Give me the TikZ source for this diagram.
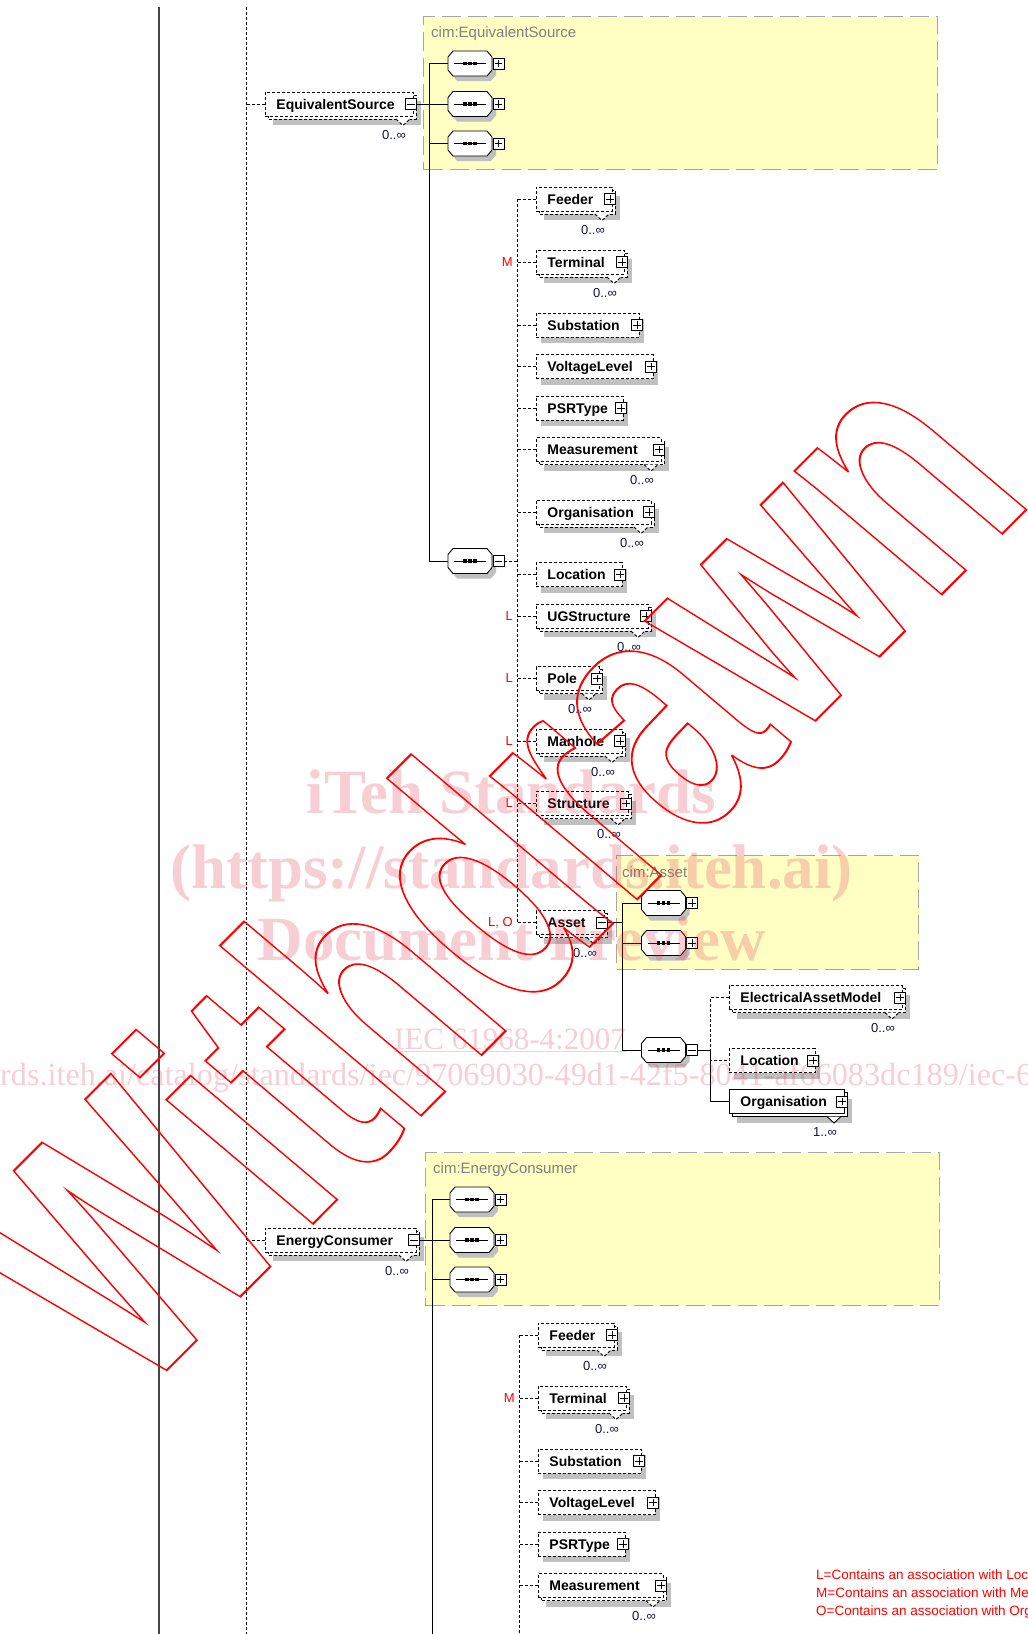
\documentclass[tikz,border=0pt]{standalone}
\usepackage{fontspec}
\setmainfont{Liberation Sans}
\newfontfamily\wmserif{Liberation Serif}
\definecolor{shadowgray}{RGB}{192,192,192}
\definecolor{cimfill}{RGB}{255,255,196}
\definecolor{cimline}{RGB}{165,165,165}
\definecolor{cimtext}{RGB}{128,128,128}
\definecolor{multtext}{RGB}{20,20,70}
\definecolor{wmpink}{RGB}{230,60,90}
\definecolor{axisgray}{RGB}{70,70,70}
\newcommand\elfnt{\fontsize{14}{16}\selectfont\bfseries}
\newcommand\multfnt{\fontsize{13}{15}\selectfont}
\newcommand\cimfnt{\fontsize{15}{17}\selectfont}
\newcommand\labfnt{\fontsize{13}{15}\selectfont}
\newcommand\legfnt{\fontsize{13.5}{16}\selectfont}
\tikzset{
  eldash/.style={draw=black, line width=0.9pt, dash pattern=on 3pt off 2pt},
  elsolid/.style={draw=black, line width=0.9pt, solid},
  elbox/.style={fill=white, minimum height=24pt, inner sep=0pt, anchor=west, font=\elfnt, text height=12pt, text depth=2pt},
  pbox/.style={draw=black, fill=white, solid, line width=0.8pt, minimum size=11pt, inner sep=0pt,
    path picture={\draw[line width=0.8pt] ([xshift=-3.6pt]path picture bounding box.center) -- ([xshift=3.6pt]path picture bounding box.center);
      \draw[line width=0.8pt] ([yshift=-3.6pt]path picture bounding box.center) -- ([yshift=3.6pt]path picture bounding box.center);}},
  mbox/.style={draw=black, fill=white, solid, line width=0.8pt, minimum size=11pt, inner sep=0pt,
    path picture={\draw[line width=0.8pt] ([xshift=-3.6pt]path picture bounding box.center) -- ([xshift=3.6pt]path picture bounding box.center);}},
  multlab/.style={font=\multfnt, text=multtext, inner sep=0pt},
  redlab/.style={font=\labfnt, text=red, inner sep=0pt, anchor=east},
  cimbox/.style={fill=cimfill, draw=cimline, line width=1.2pt, dash pattern=on 19pt off 7pt, anchor=north west, inner sep=0pt},
  cimlab/.style={font=\cimfnt, text=cimtext, anchor=west, inner sep=0pt},
  conn/.style={draw=black, line width=0.9pt},
  dconn/.style={draw=black, line width=0.9pt, dash pattern=on 3pt off 2pt},
  seqnode/.style={minimum width=44pt, minimum height=25pt, inner sep=0pt},
  seqshape/.style={draw=black, fill=white, line width=0.9pt},
  legend/.style={font=\legfnt, text=red, inner sep=0pt, anchor=base west},
  wmbig/.style={font=\wmserif\bfseries\fontsize{63}{70}\selectfont, text=wmpink, opacity=0.25, inner sep=0pt, anchor=base},
  wmmid/.style={font=\wmserif\fontsize{31}{34}\selectfont, text=wmpink, opacity=0.25, inner sep=0pt},
  wmurl/.style={font=\wmserif\fontsize{32.2}{34}\selectfont, text=wmpink, opacity=0.25, inner sep=0pt},
}
% sequence icon: name, cx, cy, box style
\newcommand\Seq[4]{%
  \path[fill=shadowgray] (#2-18,#3-1.5) -- (#2-13,#3-7.5) -- (#2+21,#3-7.5) -- (#2+26,#3-1.5) -- (#2+26,#3+11.5) -- (#2+21,#3+17.5) -- (#2-13,#3+17.5) -- (#2-18,#3+11.5) -- cycle;
  \node[seqnode] (#1) at (#2,#3) {};
  \path[seqshape] (#2-22,#3-6.5) -- (#2-17,#3-12.5) -- (#2+17,#3-12.5) -- (#2+22,#3-6.5) -- (#2+22,#3+6.5) -- (#2+17,#3+12.5) -- (#2-17,#3+12.5) -- (#2-22,#3+6.5) -- cycle;
  \draw[line width=0.9pt] (#2-16,#3) -- (#2+16,#3);
  \fill (#2-6.7,#3-1.8) rectangle (#2-3.3,#3+1.8);
  \fill (#2-1.7,#3-1.8) rectangle (#2+1.7,#3+1.8);
  \fill (#2+3.3,#3-1.8) rectangle (#2+6.7,#3+1.8);
  \node[#4] (#1p) at (#2+28.5,#3) {};
}
% single element: name, left x, button x, y, text, button style
\newcommand\ElS[6]{%
  \path[fill=shadowgray] (#2+5,#4-6) rectangle (#3+7,#4+18);
  \pgfmathsetmacro\elw{#3+2-(#2)}%
  \node[elbox, eldash] (#1) at (#2,#4) {\hbox to \elw pt{\hskip 11pt #5\hfil}};
  \node[#6] (#1p) at (#3,#4) {};
}
% multiple element: name, left x, button x, y, text, button style, multiplicity, line style
\newcommand\ElM[8]{%
  \path[fill=shadowgray] (#2+8,#4-3) rectangle (#3+10,#4+21);
  \path[#8, fill=white] (#2+3,#4-9) rectangle (#3+5,#4+15);
  \path[#8, fill=white] (#3-15,#4+15) -- (#3-8,#4+21.5) -- (#3-1,#4+15);
  \pgfmathsetmacro\elw{#3+2-(#2)}%
  \node[elbox, #8] (#1) at (#2,#4) {\hbox to \elw pt{\hskip 11pt #5\hfil}};
  \node[#6] (#1p) at (#3,#4) {};
  \node[multlab] (#1m) at (#3-17,#4+31) {#7};
}
\newcommand\outlinetext[1]{\special{pdf:literal direct 1 Tr 1.4 w}#1\special{pdf:literal direct 0 Tr}}
\begin{document}
\begin{tikzpicture}[x=1pt,y=-1pt]
\useasboundingbox (0,0) rectangle (1028,1634);
\clip (0,0) rectangle (1028,1634);
\fill[white] (0,0) rectangle (1028,1634);

% left axis lines
\coordinate (solTop) at (159,7);
\coordinate (solBot) at (159,1640);
\draw[draw=axisgray, line width=1.4pt] (solTop) -- (solBot);
\coordinate (dashTop) at (246.5,7);
\coordinate (dashBot) at (246.5,1640);
\draw[dconn] (dashTop) -- (dashBot);

% ===== EquivalentSource =====
\node[cimbox, minimum width=514pt, minimum height=153pt] (cimES) at (423,16) {};
\node[cimlab] (cimESl) at (431,34) {cim:EquivalentSource};
\ElM{es}{265}{411}{104}{EquivalentSource}{mbox}{0..∞}{eldash}
\draw[dconn] (es.west) -- (es.west -| dashTop);
\Seq{es1}{470}{63.5}{pbox}
\Seq{es2}{470}{104}{pbox}
\Seq{es3}{470}{143.5}{pbox}
\Seq{esm}{470}{561}{mbox}
\coordinate (esTr) at (429.5,63.5);
\draw[conn] (es1.west) -- (es1.west -| esTr) -- (esm.west -| esTr) -- (esm.west);
\draw[conn] (esp.east) -- (es2.west);
\draw[conn] (es3.west) -- (es3.west -| esTr);

\ElM{feeder}{536}{610}{199}{Feeder}{pbox}{0..∞}{eldash}
\ElM{terminal}{536}{622}{262}{Terminal}{pbox}{0..∞}{eldash}
\ElS{substation}{536}{637}{325}{Substation}{pbox}
\ElS{voltage}{536}{651}{366.5}{VoltageLevel}{pbox}
\ElS{psr}{536}{621}{408}{PSRType}{pbox}
\ElM{meas}{536}{659}{449.5}{Measurement}{pbox}{0..∞}{eldash}
\ElM{org}{536}{649}{512}{Organisation}{pbox}{0..∞}{eldash}
\ElS{loc}{536}{620}{574.5}{Location}{pbox}
\ElM{ug}{536}{646}{616}{UGStructure}{pbox}{0..∞}{eldash}
\ElM{pole}{536}{597}{678.5}{Pole}{pbox}{0..∞}{eldash}
\ElM{manhole}{536}{620}{741}{Manhole}{pbox}{0..∞}{eldash}
\ElM{structure}{536}{626}{803.5}{Structure}{pbox}{0..∞}{eldash}

% Asset with its type box
\node[cimbox, minimum width=302pt, minimum height=114pt] (cimAs) at (616,855) {};
\node[cimlab] (cimAsl) at (622,872.5) {cim:Asset};
\ElM{asset}{536}{602}{922.5}{Asset}{mbox}{0..∞}{eldash}

\coordinate (chTr) at (517.5,199);
\draw[dconn] (esmp.east) -- (esmp.east -| chTr);
\draw[dconn] (feeder.west -| chTr) -- (asset.west -| chTr);
\foreach \n in {feeder,terminal,substation,voltage,psr,meas,org,loc,ug,pole,manhole,structure,asset}
  \draw[dconn] (\n.west) -- (\n.west -| chTr);
\node[redlab] (lM) at (513,262) {M};
\node[redlab] (lL1) at (513,616) {L};
\node[redlab] (lL2) at (513,678.5) {L};
\node[redlab] (lL3) at (513,741) {L};
\node[redlab] (lL4) at (513,803.5) {L};
\node[redlab] (lLO) at (513,922.5) {L, O};

\Seq{as1}{663.5}{903}{pbox}
\Seq{as2}{663.5}{943}{pbox}
\Seq{as3}{663.5}{1050}{mbox}
\coordinate (asTr) at (622.5,903);
\draw[conn] (assetp.east) -- (assetp.east -| asTr);
\draw[conn] (as1.west) -- (as1.west -| asTr) -- (as3.west -| asTr) -- (as3.west);
\draw[conn] (as2.west) -- (as2.west -| asTr);
\ElM{eam}{729}{900}{997.5}{ElectricalAssetModel}{pbox}{0..∞}{eldash}
\ElS{aloc}{729}{813}{1060.5}{Location}{pbox}
\ElM{aorg}{729}{842}{1101.5}{Organisation}{pbox}{1..∞}{elsolid}
\coordinate (brTr) at (710.5,997.5);
\draw[conn] (as3p.east) -- (as3p.east -| brTr);
\draw[dconn] (eam.west) -- (eam.west -| brTr) -- (aloc.west -| brTr) -- (aloc.west);
\draw[conn] (as3p.east -| brTr) -- (aorg.west -| brTr) -- (aorg.west);

% ===== EnergyConsumer =====
\ElM{ec}{265}{414}{1240}{EnergyConsumer}{mbox}{0..∞}{eldash}
\draw[dconn] (ec.west) -- (ec.west -| dashTop);
\begin{scope}[shift={(2,1136)}]
  \node[cimbox, minimum width=514pt, minimum height=153pt] (cimEC) at (423,16) {};
  \node[cimlab] (cimECl) at (431,34) {cim:EnergyConsumer};
  \Seq{ec1}{470}{63.5}{pbox}
  \Seq{ec2}{470}{104}{pbox}
  \Seq{ec3}{470}{143.5}{pbox}
  \coordinate (ecTr) at (430.5,63.5);
  \coordinate (ecBot) at (430.5,520);
  \draw[conn] (ec1.west) -- (ec1.west -| ecTr) -- (ecBot);
  \draw[conn] (ecp.east) -- (ec2.west);
  \draw[conn] (ec3.west) -- (ec3.west -| ecTr);
  \ElM{cfeeder}{536}{610}{199}{Feeder}{pbox}{0..∞}{eldash}
  \ElM{cterminal}{536}{622}{262}{Terminal}{pbox}{0..∞}{eldash}
  \ElS{csub}{536}{637}{325}{Substation}{pbox}
  \ElS{cvolt}{536}{651}{366.5}{VoltageLevel}{pbox}
  \ElS{cpsr}{536}{621}{408}{PSRType}{pbox}
  \ElM{cmeas}{536}{659}{449.5}{Measurement}{pbox}{0..∞}{eldash}
  \coordinate (cTr) at (517.5,199);
  \coordinate (cBot) at (517.5,520);
  \draw[dconn] (cfeeder.west -| cTr) -- (cBot);
  \foreach \n in {cfeeder,cterminal,csub,cvolt,cpsr,cmeas}
    \draw[dconn] (\n.west) -- (\n.west -| cTr);
  \node[redlab] (clM) at (513,262) {M};
\end{scope}

% legend
\node[legend] (leg1) at (816,1579.5) {L=Contains an association with Location};
\node[legend] (leg2) at (816,1597.3) {M=Contains an association with Measurement};
\node[legend] (leg3) at (816,1615) {O=Contains an association with Organisation};

% watermarks
\node[wmbig] (wm1) at (511.5,813) {iTeh Standards};
\node[wmbig] (wm2) at (511.5,888) {(https://standards.iteh.ai)};
\node[wmbig] (wm3) at (511.5,960) {Document Preview};
\node[wmmid, anchor=base] (wm4) at (510,1049) {\underline{IEC 61968-4:2007}};
\node[wmurl, anchor=base west] (wm5) at (0,1085) {rds.iteh.ai/catalog/standards/iec/97069030-49d1-42f5-8041-af66083dc189/iec-61968-4-2007};

\begin{scope}[shift={(135,1402)}]
  \node[inner sep=0pt, anchor=base west, transform shape, cm={0.7072,0.708,-1.11,0.9384,(0,0)}, text=red] (wd) at (0,0)
    {\fontsize{250}{250}\selectfont\bfseries\outlinetext{Withdrawn}};
\end{scope}
\end{tikzpicture}
\end{document}
